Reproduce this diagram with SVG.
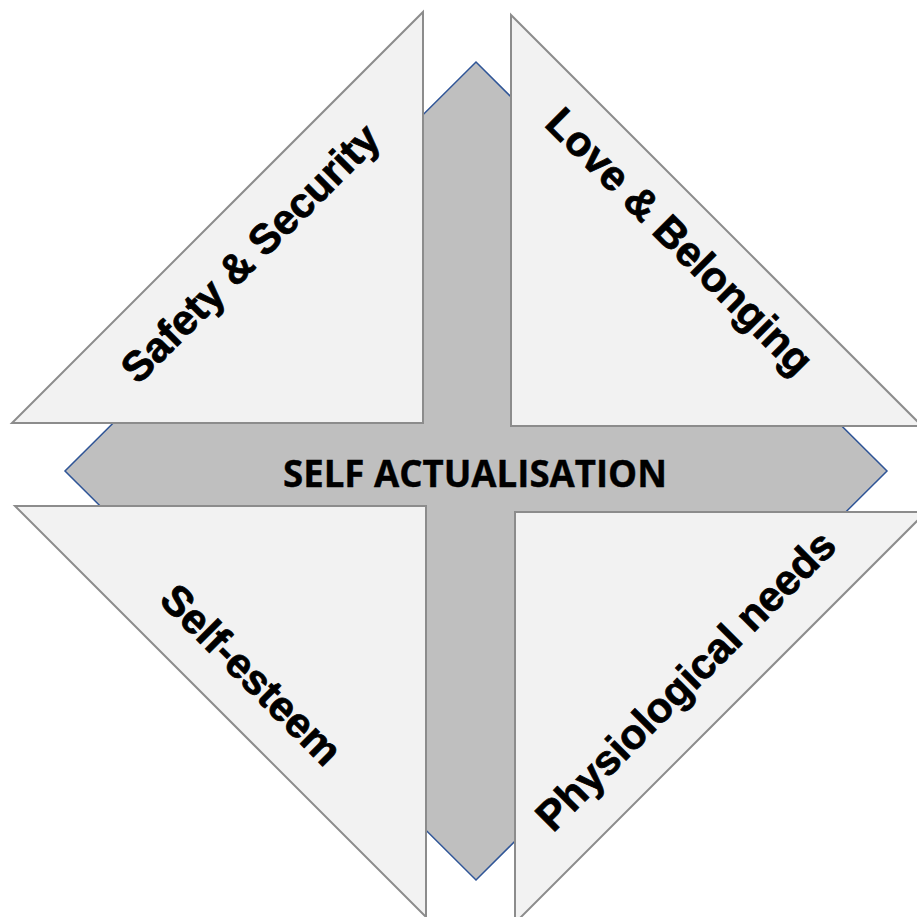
<svg xmlns="http://www.w3.org/2000/svg" width="917" height="917" viewBox="0 0 917 917">
<style>
.tri{fill:#f2f2f2;stroke:#8c8c8c;stroke-width:2}
.lbl{font-family:"Liberation Sans",Arial,sans-serif;font-weight:bold;font-size:42px;fill:#000;stroke:#000;stroke-width:0.8;text-anchor:middle}
</style>
<rect width="917" height="917" fill="#fff"/>
<g id="center">
<polygon points="476,62 887,471 476,880 65,471" fill="#bfbfbf" stroke="#2f5597" stroke-width="1.5"/>
</g>
<g id="safety">
<polygon class="tri" points="423,12 423,423 12,423"/>
<text class="lbl" transform="translate(253,256) rotate(-45)" y="10.5">Safety &amp; Security</text>
</g>
<g id="love">
<polygon class="tri" points="511,15 511,426 922,426"/>
<text class="lbl" transform="translate(677,244) rotate(45)" y="10.5">Love &amp; Belonging</text>
</g>
<g id="esteem">
<polygon class="tri" points="15,506 426,506 426,917"/>
<text class="lbl" transform="translate(252,674) rotate(45)" y="15.3">Self-esteem</text>
</g>
<g id="physio">
<polygon class="tri" points="515,512 926,512 515,923"/>
<text class="lbl" transform="translate(688,683) rotate(-45)" y="10.9">Physiological needs</text>
</g>
<g id="title">
<text x="475" y="487" font-family="'Open Sans','Liberation Sans',sans-serif" font-weight="bold" font-size="38" fill="#000" stroke="#000" stroke-width="0.4" text-anchor="middle" textLength="384" lengthAdjust="spacingAndGlyphs">SELF ACTUALISATION</text>
</g>
<g id="connectors"/>
</svg>
